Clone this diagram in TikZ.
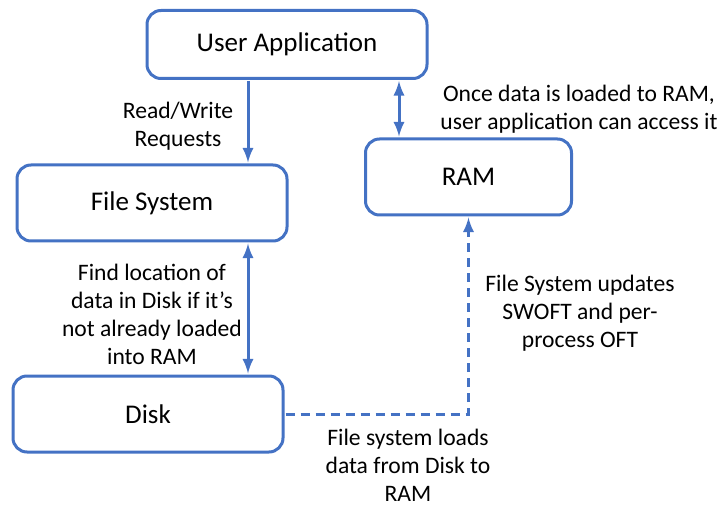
\documentclass[tikz,border=0pt]{standalone}
\usepackage{fontspec}
\setmainfont{Carlito}
\usepackage{tikz}
\usetikzlibrary{arrows,positioning}

\definecolor{lineblue}{HTML}{4472C4}

\begin{document}
\begin{tikzpicture}[x=0.5pt,y=-0.5pt,>=latex,
    box/.style={draw=lineblue, line width=1.5pt, rounded corners=7pt, fill=white,
                font=\fontsize{13.5}{16}\selectfont},
    lbl/.style={align=center, font=\fontsize{11.8}{14}\selectfont},
    link/.style={draw=lineblue, line width=1.5pt, shorten >=0.5pt, shorten <=0.5pt}]
   \useasboundingbox (0,0) rectangle (723,513);
   \node[box, minimum width=140pt, minimum height=34pt] (app)  at (287,44.5) {User Application};
   \node[box, minimum width=135pt, minimum height=38pt] (fs)   at (152,203)  {File System};
   \node[box, minimum width=103pt, minimum height=38pt] (ram)  at (468.5,177) {RAM};
   \node[box, minimum width=135pt, minimum height=38pt] (disk) at (148,414)  {Disk};

   \coordinate (fsx)  at (248,0);
   \coordinate (ramx) at (399,0);

   \node[lbl] (rw)    at (178,126) {Read/Write\\Requests};
   \node[lbl] (once)  at (579,109) {Once data is loaded to RAM,\\user application can access it};
   \node[lbl] (find)  at (152,314) {Find location of\\data in Disk if it’s\\not already loaded\\into RAM};
   \node[lbl] (upd)   at (580,313) {File System updates\\SWOFT and per-\\process OFT};
   \node[lbl] (loads) at (408,465) {File system loads\\data from Disk to\\RAM};

    \path 
    (app.south -| fsx)  edge[link, ->]  (fs.north -| fsx)
    (app.south -| ramx) edge[link, <->] (ram.north -| ramx)
    (fs.south -| fsx)   edge[link, <->] (disk.north -| fsx);
    \draw[link, ->, dash pattern=on 4.5pt off 3pt] (disk.east) -| (ram.south);
\end{tikzpicture}
\end{document}
